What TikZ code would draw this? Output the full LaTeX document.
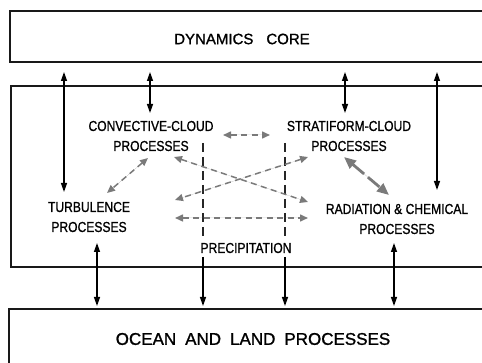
\documentclass[tikz,border=0pt]{standalone}
\usepackage{fontspec}
\setmainfont{Liberation Sans}[FakeBold=1.2]
\newfontfamily\narrowfont{Liberation Sans}[FakeStretch=0.84,FakeBold=1.0]
\usetikzlibrary{arrows.meta}
\begin{document}
\begin{tikzpicture}[x=1pt,y=-1pt,
  box/.style={line width=1.8pt, draw=black!90},
  lbl/.style={font=\narrowfont\fontsize{14.4}{20}\selectfont, align=center, inner sep=0pt, text=black},
  title/.style={inner sep=0pt, text=black},
  blk/.style={line width=1.3pt, draw=black, -{Triangle[length=9pt,width=6pt]}},
  blktwo/.style={line width=1.3pt, draw=black, {Triangle[length=9pt,width=6pt]}-{Triangle[length=9pt,width=6pt]}},
  vdash/.style={line width=1.3pt, draw=black!85, dash pattern=on 9pt off 5pt},
  gr/.style={line width=1.5pt, draw=black!52, fill=black!52, dash pattern=on 6pt off 4.5pt, {Triangle[length=8pt,width=7pt]}-{Triangle[length=8pt,width=7pt]}},
  grthick/.style={line width=2.8pt, draw=black!52, fill=black!52, dash pattern=on 15pt off 5pt, {Triangle[length=12pt,width=10pt]}-{Triangle[length=12pt,width=10pt]}}
]
\useasboundingbox (0,0) rectangle (482,363);
\clip (0,0) rectangle (482,363);

% boxes
\draw[box] (10,11) rectangle (500,62);
\draw[box] (11,86) rectangle (500,267);
\draw[box] (9,309) rectangle (500,400);

% texts
\node[title, font=\fontsize{15}{18}\selectfont] (dyn) at (242,39) {DYNAMICS\hspace{13pt}CORE};
\node[title, font=\fontsize{17}{20}\selectfont] (ocean) at (253,339) {OCEAN\hspace{9pt}AND\hspace{9pt}LAND\hspace{9pt}PROCESSES};
\node[lbl] (conv) at (151,136) {CONVECTIVE-CLOUD\\PROCESSES};
\node[lbl] (strat) at (349,136) {STRATIFORM-CLOUD\\PROCESSES};
\node[lbl] (turb) at (89,217) {TURBULENCE\\PROCESSES};
\node[lbl] (rad) at (397,219) {RADIATION \& CHEMICAL\\PROCESSES};
\node[lbl] (prec) at (246,248) {PRECIPITATION};

% black arrows from dynamics core
\coordinate (da) at (64,72);  \coordinate (ta) at (64,192);
\coordinate (db) at (150,72); \coordinate (cb) at (150,113);
\coordinate (dc) at (345,72); \coordinate (sc) at (345,113);
\coordinate (dd) at (437,72); \coordinate (rd) at (437,190);
\draw[blktwo] (da) -- (ta);
\draw[blktwo] (db) -- (cb);
\draw[blktwo] (dc) -- (sc);
\draw[blktwo] (dd) -- (rd);

% black arrows to ocean and land
\coordinate (tb) at (97,243);  \coordinate (ob) at (97,306);
\coordinate (rb) at (394,243); \coordinate (orb) at (394,306);
\draw[blktwo] (tb) -- (ob);
\draw[blktwo] (rb) -- (orb);

% precipitation lines
\coordinate (p1a) at (203,143); \coordinate (p1b) at (203,238);
\coordinate (p1c) at (203,257); \coordinate (p1d) at (203,306);
\coordinate (p2a) at (285,143); \coordinate (p2b) at (285,238);
\coordinate (p2c) at (285,257); \coordinate (p2d) at (285,306);
\draw[vdash] (p1a) -- (p1b);
\draw[vdash] (p2a) -- (p2b);
\draw[blk] (p1c) -- (p1d);
\draw[blk] (p2c) -- (p2d);

% grey interactions
\coordinate (g1a) at (223,135); \coordinate (g1b) at (270,135);
\coordinate (g2a) at (148,158); \coordinate (g2b) at (107,193);
\coordinate (g3a) at (174,157); \coordinate (g3b) at (308,202);
\coordinate (g4a) at (308,157); \coordinate (g4b) at (175,200);
\coordinate (g5a) at (175,218); \coordinate (g5b) at (308,218);
\coordinate (g6a) at (344,157); \coordinate (g6b) at (389,195);
\draw[gr] (g1a) -- (g1b);
\draw[gr] (g2a) -- (g2b);
\draw[gr] (g3a) -- (g3b);
\draw[gr] (g4a) -- (g4b);
\draw[gr] (g5a) -- (g5b);
\draw[grthick] (g6a) -- (g6b);
\end{tikzpicture}
\end{document}
